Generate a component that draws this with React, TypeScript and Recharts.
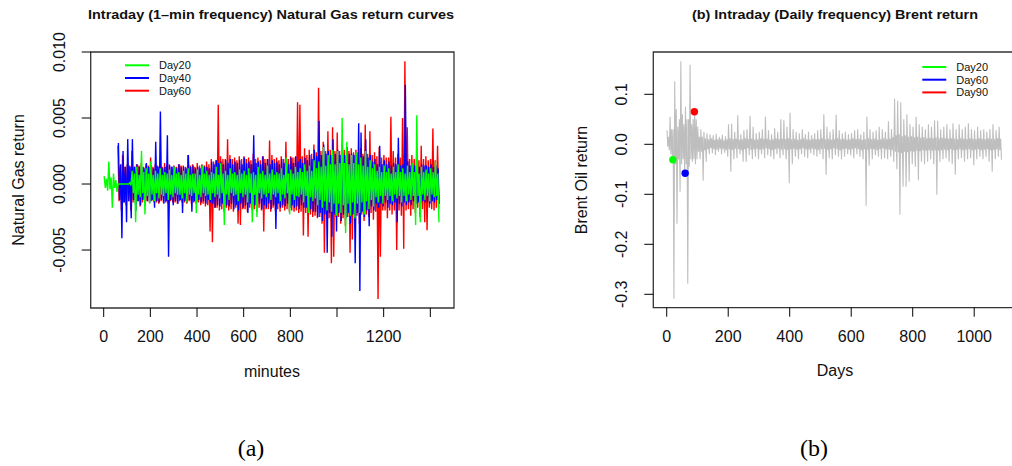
import React from "react";
import { ComposedChart, Line, XAxis, YAxis, ReferenceArea, ReferenceDot } from "recharts";

// ---- (a) natural gas, 1-min returns ----
// read off the picture as high / low per 10-minute bin, in units of 0.001
const GAS_BIN = 10;
const GAS_UNIT = 0.001;

const gasDay20Hi = [
  0.6, 0.4, 1.7, 0.5, 0.8, 0.3, 0, 0, 0, 0,
  0, 0.1, 1.0, 0.8, 1.3, 0.7, 2.5, 0.9, 1.2, 0.8,
  1.7, 0.7, 1.0, 0.8, 1.2, 0.7, 0.9, 0.8, 1.1, 0.7,
  1.3, 0.8, 0.9, 0.7, 1.0, 0.8, 1.2, 0.7, 0.8, 0.8,
  1.1, 0.7, 1.4, 0.8, 1.0, 0.7, 0.9, 0.8, 1.3, 0.7,
  1.6, 0.8, 1.0, 0.7, 1.2, 0.8, 0.9, 0.7, 1.1, 0.8,
  1.0, 0.7, 1.2, 0.8, 0.9, 0.7, 1.3, 0.8, 1.0, 0.7,
  1.4, 0.8, 1.1, 0.7, 0.9, 0.8, 1.2, 0.7, 2.0, 0.8,
  1.1, 0.8, 1.3, 0.9, 1.2, 0.9, 1.5, 1.0, 1.4, 1.0,
  1.8, 1.2, 1.7, 1.3, 2.8, 1.4, 2.2, 1.5, 2.6, 1.5,
  2.5, 1.6, 5.0, 1.6, 3.2, 1.5, 2.2, 1.6, 2.4, 1.5,
  2.0, 1.4, 2.5, 1.3, 1.8, 1.2, 1.5, 1.0, 1.3, 0.9,
  1.4, 0.9, 1.2, 0.8, 1.3, 0.9, 1.5, 0.9, 1.2, 0.8,
  1.4, 0.9, 1.6, 0.9, 5.2, 0.8, 1.3, 0.9, 1.1, 0.8,
  1.2, 0.9, 1.7, 0.8,
];
const gasDay20Lo = [
  -0.3, -0.5, -0.4, -1.8, -0.3, -0.6, 0, 0, 0, 0,
  0, -0.1, -0.7, -2.9, -0.8, -1.0, -0.7, -2.3, -0.9, -1.5,
  -0.8, -1.3, -0.7, -1.1, -0.8, -0.9, -0.7, -1.2, -0.8, -1.0,
  -0.7, -0.8, -0.8, -1.1, -0.7, -1.4, -0.8, -0.9, -0.7, -2.2,
  -0.8, -1.0, -0.7, -0.9, -0.8, -1.2, -0.7, -1.0, -0.8, -1.1,
  -0.7, -3.1, -0.8, -1.2, -0.7, -0.9, -0.8, -1.3, -0.7, -1.0,
  -0.8, -1.4, -0.7, -2.9, -0.8, -2.5, -0.7, -1.1, -0.8, -1.0,
  -0.7, -1.2, -0.8, -1.0, -0.7, -1.3, -0.8, -1.1, -0.7, -2.3,
  -0.8, -1.2, -0.9, -1.0, -0.8, -1.4, -0.9, -2.2, -1.0, -1.3,
  -1.1, -1.6, -1.2, -1.8, -1.3, -2.0, -1.4, -2.1, -1.5, -2.4,
  -1.5, -2.2, -1.6, -3.7, -1.5, -2.4, -1.4, -2.6, -1.5, -2.2,
  -1.4, -2.3, -1.3, -1.9, -1.2, -1.7, -1.0, -1.4, -0.9, -1.5,
  -0.9, -1.2, -0.9, -1.3, -0.8, -1.1, -0.9, -1.4, -0.9, -1.3,
  -0.8, -1.2, -0.9, -3.1, -0.9, -2.9, -0.8, -1.2, -0.9, -1.3,
  -0.8, -1.0, -0.9, -2.9,
];
const gasDay40Hi = [
  null, null, null, null, null, null, 3.1, 1.5, 2.5, 1.3,
  3.4, 1.3, 3.4, 1.3, 1.5, 1.3, 1.3, 1.2, 1.6, 1.3,
  1.4, 1.2, 3.2, 1.3, 5.5, 1.2, 1.3, 3.7, 1.4, 1.3,
  1.3, 1.2, 1.5, 1.3, 1.3, 1.2, 2.2, 1.3, 1.4, 1.2,
  1.3, 1.2, 1.4, 1.3, 1.3, 1.2, 1.7, 1.5, 1.8, 1.6,
  1.7, 1.5, 1.8, 1.6, 1.9, 1.5, 1.7, 1.6, 1.8, 1.5,
  2.0, 1.6, 1.7, 1.5, 3.7, 1.6, 1.7, 1.5, 2.1, 1.6,
  1.9, 1.5, 1.8, 1.6, 1.7, 1.5, 1.9, 1.6, 1.7, 1.5,
  2.0, 1.6, 2.1, 1.7, 1.9, 1.6, 2.0, 1.8, 2.2, 1.9,
  2.6, 2.1, 4.8, 2.2, 3.0, 2.3, 2.5, 2.2, 3.4, 2.3,
  2.6, 2.2, 2.4, 2.2, 2.8, 2.3, 2.3, 2.2, 2.2, 4.6,
  3.9, 2.1, 3.4, 2.0, 2.2, 1.7, 1.9, 1.5, 2.9, 1.5,
  1.8, 1.5, 1.7, 1.4, 1.6, 1.5, 3.5, 1.4, 1.5, 7.5,
  1.7, 1.4, 1.5, 1.4, 1.6, 1.3, 1.5, 1.4, 1.4, 1.3,
  1.5, 1.3, 1.4, 1.2,
];
const gasDay40Lo = [
  null, null, null, null, null, null, -1.2, -4.1, -1.4, -2.9,
  -1.3, -2.6, -1.2, -2.0, -1.3, -1.6, -1.2, -1.5, -1.3, -1.4,
  -1.2, -1.8, -1.3, -1.4, -1.2, -1.5, -1.3, -5.5, -1.2, -1.6,
  -1.3, -1.5, -1.2, -2.2, -1.3, -1.4, -1.2, -2.1, -1.3, -1.4,
  -1.2, -1.4, -1.3, -1.5, -1.2, -1.4, -1.5, -1.8, -1.6, -1.7,
  -1.5, -1.8, -1.6, -1.7, -1.5, -1.9, -1.6, -2.0, -1.5, -1.8,
  -1.6, -2.2, -1.5, -1.9, -1.6, -1.8, -1.5, -1.9, -1.6, -1.8,
  -1.5, -1.9, -1.6, -3.4, -1.5, -1.8, -1.6, -1.7, -1.5, -1.8,
  -1.6, -1.8, -1.7, -1.9, -1.6, -1.8, -1.8, -2.1, -1.9, -2.1,
  -2.1, -2.5, -2.2, -2.8, -2.3, -5.2, -2.2, -4.0, -2.3, -3.6,
  -2.2, -2.8, -2.3, -2.6, -2.2, -3.0, -2.3, -6.0, -2.2, -8.1,
  -2.1, -2.5, -2.0, -3.2, -1.7, -2.0, -1.5, -1.8, -1.5, -1.7,
  -1.4, -1.8, -1.5, -1.6, -1.4, -2.9, -1.5, -1.7, -1.4, -1.6,
  -1.4, -1.6, -1.3, -1.5, -1.4, -1.5, -1.3, -1.4, -1.4, -1.5,
  -1.3, -1.4, -1.2, -1.5,
];
const gasDay60Hi = [
  null, null, null, null, null, null, 2.9, 1.4, 2.2, 1.3,
  1.5, 1.4, 2.5, 1.3, 1.5, 1.4, 1.6, 1.3, 1.5, 1.4,
  2.0, 1.3, 1.5, 1.4, 1.4, 1.3, 1.6, 1.4, 1.5, 1.3,
  1.4, 1.3, 1.5, 1.4, 1.4, 1.3, 2.2, 1.4, 1.5, 1.3,
  1.6, 1.4, 1.5, 1.4, 1.7, 1.5, 1.9, 1.7, 1.8, 6.0,
  2.1, 1.9, 1.9, 3.4, 2.2, 1.9, 2.0, 1.8, 2.1, 1.9,
  2.1, 1.9, 2.0, 1.8, 2.3, 1.9, 2.0, 1.8, 2.1, 1.9,
  1.9, 3.3, 2.2, 1.9, 2.0, 1.8, 2.1, 1.9, 3.2, 1.9,
  2.1, 2.0, 2.0, 6.2, 6.0, 2.1, 2.7, 2.2, 2.6, 2.3,
  3.0, 2.4, 7.3, 2.5, 3.2, 2.5, 4.0, 2.6, 4.3, 2.5,
  3.9, 2.5, 3.0, 2.6, 2.8, 2.5, 2.7, 2.4, 2.6, 2.4,
  2.7, 2.3, 4.5, 2.3, 4.0, 2.2, 2.4, 2.1, 2.8, 2.0,
  2.2, 2.0, 2.0, 5.1, 2.5, 2.0, 2.3, 2.0, 5.0, 9.3,
  4.3, 1.9, 2.2, 1.9, 2.0, 1.8, 2.9, 1.9, 2.1, 1.8,
  1.9, 4.2, 1.8, 2.9,
];
const gasDay60Lo = [
  null, null, null, null, null, null, -1.3, -2.0, -1.4, -1.6,
  -1.3, -2.0, -1.4, -1.5, -1.3, -1.7, -1.4, -1.5, -1.3, -1.4,
  -1.3, -1.4, -1.4, -1.5, -1.3, -1.4, -1.4, -1.5, -1.3, -1.4,
  -1.4, -1.5, -1.3, -1.4, -1.4, -1.5, -1.3, -1.5, -1.4, -1.5,
  -1.4, -1.6, -1.5, -1.7, -1.6, -3.6, -4.4, -1.8, -1.8, -2.0,
  -1.9, -2.1, -1.8, -2.0, -1.9, -2.1, -1.8, -3.0, -3.1, -1.9,
  -1.9, -2.1, -1.8, -2.0, -1.9, -2.1, -1.8, -2.0, -3.6, -1.9,
  -1.9, -2.1, -1.8, -2.0, -1.9, -2.1, -1.8, -2.0, -1.9, -2.1,
  -2.0, -2.1, -2.0, -2.2, -2.1, -3.9, -2.2, -4.0, -2.3, -2.5,
  -2.4, -2.6, -2.5, -3.0, -5.2, -2.5, -2.6, -6.0, -5.5, -2.5,
  -2.5, -3.0, -2.6, -3.2, -2.5, -5.2, -4.2, -2.4, -2.4, -3.0,
  -2.3, -2.8, -2.3, -2.5, -2.2, -2.7, -2.1, -8.7, -5.5, -2.0,
  -2.0, -2.6, -2.0, -2.3, -2.0, -5.0, -2.0, -2.4, -4.9, -2.0,
  -1.9, -2.4, -1.9, -2.2, -1.8, -2.5, -1.9, -2.9, -3.5, -1.8,
  -1.9, -2.0, -1.8, -1.9,
];

const gasXTicks = [0, 200, 400, 600, 800, 1000, 1200, 1400];
const gasXTickLabels = ["0", "200", "400", "600", "800", "", "1200", ""];
const gasYTicks = [-0.005, 0, 0.005, 0.01];
const gasYTickLabels = ["-0.005", "0.000", "0.005", "0.010"];
const gasLegend = ["Day20", "Day40", "Day60"];

// ---- (b) Brent, daily returns ----
// high / low per 5-day bin
const BRENT_BIN = 5;
const brentHi = [
  0.028, 0.015, 0.055, 0.03, 0.03, 0.126, 0.07, 0.035, 0.05, 0.166,
  0.06, 0.04, 0.075, 0.05, 0.05, 0.159, 0.04, 0.05, 0.065, 0.05,
  0.035, 0.015, 0.03, 0.015, 0.025, 0.012,
  0.022, 0.01, 0.02, 0.012, 0.018, 0.009, 0.021, 0.01, 0.015, 0.011,
  0.019, 0.008, 0.016, 0.01, 0.04, 0.012, 0.041, 0.01, 0.025, 0.011,
  0.058, 0.009, 0.02, 0.01, 0.028, 0.012, 0.03, 0.01, 0.057, 0.011,
  0.035, 0.009, 0.022, 0.01, 0.025, 0.012, 0.03, 0.01, 0.055, 0.011,
  0.028, 0.009, 0.02, 0.01, 0.032, 0.012, 0.025, 0.01, 0.05, 0.011,
  0.048, 0.01, 0.035, 0.012, 0.063, 0.01, 0.03, 0.011, 0.025, 0.009,
  0.022, 0.01, 0.03, 0.012, 0.02, 0.01, 0.025, 0.009, 0.018, 0.011,
  0.022, 0.01, 0.028, 0.01, 0.03, 0.012, 0.06, 0.01, 0.035, 0.011,
  0.025, 0.009, 0.03, 0.01, 0.059, 0.012, 0.028, 0.01, 0.022, 0.011,
  0.025, 0.009, 0.02, 0.01, 0.022, 0.012, 0.028, 0.01, 0.03, 0.011,
  0.02, 0.009, 0.025, 0.01, 0.055, 0.012, 0.03, 0.01, 0.025, 0.011,
  0.028, 0.009, 0.035, 0.01, 0.03, 0.012, 0.025, 0.01, 0.046, 0.011,
  0.03, 0.014, 0.091, 0.018, 0.087, 0.02, 0.084, 0.016, 0.05, 0.018,
  0.06, 0.015, 0.04, 0.016, 0.035, 0.014, 0.055, 0.015, 0.04, 0.013,
  0.035, 0.014, 0.03, 0.012, 0.04, 0.013, 0.035, 0.012, 0.048, 0.014,
  0.047, 0.012, 0.03, 0.013, 0.035, 0.012, 0.04, 0.011, 0.03, 0.012,
  0.042, 0.011, 0.03, 0.01, 0.04, 0.012, 0.03, 0.011, 0.035, 0.01,
  0.042, 0.012, 0.03, 0.011, 0.028, 0.01, 0.035, 0.012, 0.028, 0.011,
  0.03, 0.01, 0.025, 0.012, 0.03, 0.011, 0.04, 0.01, 0.028, 0.012,
  0.035, 0.011,
];
const brentLo = [
  -0.005, -0.012, -0.02, -0.031, -0.309, -0.04, -0.159, -0.03, -0.095, -0.04,
  -0.03, -0.058, -0.04, -0.279, -0.045, -0.03, -0.035, -0.03, -0.04, -0.03,
  -0.015, -0.03, -0.015, -0.073, -0.012, -0.035,
  -0.01, -0.02, -0.008, -0.018, -0.01, -0.022, -0.011, -0.015, -0.009, -0.02,
  -0.01, -0.017, -0.012, -0.025, -0.01, -0.055, -0.011, -0.03, -0.009, -0.028,
  -0.01, -0.02, -0.012, -0.035, -0.01, -0.035, -0.008, -0.022, -0.011, -0.03,
  -0.01, -0.025, -0.009, -0.03, -0.011, -0.02, -0.01, -0.028, -0.008, -0.022,
  -0.01, -0.025, -0.012, -0.03, -0.01, -0.02, -0.009, -0.028, -0.011, -0.022,
  -0.01, -0.03, -0.012, -0.078, -0.01, -0.04, -0.009, -0.025, -0.011, -0.03,
  -0.01, -0.02, -0.008, -0.025, -0.01, -0.028, -0.011, -0.018, -0.009, -0.022,
  -0.01, -0.025, -0.012, -0.02, -0.01, -0.03, -0.009, -0.061, -0.011, -0.028,
  -0.01, -0.03, -0.008, -0.022, -0.01, -0.025, -0.012, -0.03, -0.01, -0.025,
  -0.009, -0.02, -0.011, -0.022, -0.01, -0.028, -0.008, -0.02, -0.01, -0.025,
  -0.012, -0.03, -0.01, -0.123, -0.011, -0.043, -0.009, -0.03, -0.01, -0.022,
  -0.012, -0.025, -0.01, -0.03, -0.008, -0.028, -0.01, -0.03, -0.011, -0.025,
  -0.012, -0.035, -0.015, -0.05, -0.016, -0.141, -0.018, -0.085, -0.015, -0.085,
  -0.016, -0.075, -0.014, -0.04, -0.015, -0.045, -0.013, -0.072, -0.014, -0.035,
  -0.012, -0.04, -0.013, -0.035, -0.012, -0.03, -0.013, -0.04, -0.012, -0.101,
  -0.013, -0.035, -0.012, -0.03, -0.011, -0.028, -0.012, -0.035, -0.01, -0.04,
  -0.012, -0.061, -0.011, -0.03, -0.01, -0.028, -0.012, -0.035, -0.011, -0.03,
  -0.01, -0.028, -0.012, -0.042, -0.011, -0.03, -0.01, -0.025, -0.012, -0.03,
  -0.011, -0.025, -0.01, -0.035, -0.012, -0.055, -0.011, -0.03, -0.01, -0.025,
  -0.012, -0.031,
];

const brentMarkDays = [20, 60, 90];
const brentMarkValues = [-0.031, -0.058, 0.065];
const brentLegend = ["Day20", "Day60", "Day90"];
const brentXTicks = [0, 200, 400, 600, 800, 1000];
const brentYTicks = [-0.3, -0.2, -0.1, 0, 0.1];
const brentYTickLabels = ["-0.3", "-0.2", "-0.1", "0.0", "0.1"];

const lineColors = ["#00ff00", "#0000ff", "#ff0000"];
const FONT = '"Liberation Sans", Arial, Helvetica, sans-serif';
const SERIF = '"Liberation Serif", "Times New Roman", serif';

function envelope(hi: (number | null)[], lo: (number | null)[], bin: number, offset: number, unit: number) {
  const pts: { x: number; v: number }[] = [];
  hi.forEach((h, k) => {
    const l = lo[k];
    if (h == null || l == null) return;
    pts.push({ x: k * bin + offset, v: h * unit });
    pts.push({ x: k * bin + offset + bin / 2, v: l * unit });
  });
  return pts;
}

const gasRed = envelope(gasDay60Hi, gasDay60Lo, GAS_BIN, 1, GAS_UNIT);
const gasBlue = envelope(gasDay40Hi, gasDay40Lo, GAS_BIN, 3, GAS_UNIT);
const gasGreen = envelope(gasDay20Hi, gasDay20Lo, GAS_BIN, 2, GAS_UNIT);
const brent = envelope(brentHi, brentLo, BRENT_BIN, 1, 1);

const GAS_X = [-55.7, 1501.5];
const GAS_Y = [-0.00939, 0.01];
const BRENT_X = [-43.6, 1133.6];
const BRENT_Y = [-0.3268, 0.1846];

function makeXTick(ticks: number[], labels: string[]) {
  return (props: any) => {
    const { x, y, payload } = props;
    const i = ticks.indexOf(payload.value);
    return (
      <text x={x} y={y + 25} textAnchor="middle" fontSize={16} fill="#111" fontFamily={FONT}>
        {labels[i]}
      </text>
    );
  };
}

function makeYTick(ticks: number[], labels: string[]) {
  return (props: any) => {
    const { x, y, payload } = props;
    const i = ticks.findIndex((t) => Math.abs(t - payload.value) < 1e-9);
    const bx = x - 17;
    return (
      <text
        x={bx}
        y={y}
        transform={`rotate(-90 ${bx} ${y})`}
        textAnchor="middle"
        fontSize={16}
        fill="#111"
        fontFamily={FONT}
      >
        {labels[i]}
      </text>
    );
  };
}

function GasPanel() {
  return (
    <ComposedChart width={470} height={466} margin={{ top: 52, right: 16, bottom: 118, left: 60.7 }}>
      <XAxis
        type="number"
        dataKey="x"
        domain={GAS_X}
        allowDataOverflow
        ticks={gasXTicks}
        interval={0}
        tick={makeXTick(gasXTicks, gasXTickLabels)}
        tickSize={9}
        tickMargin={0}
        tickLine={{ stroke: "#000" }}
        axisLine={false}
        height={40}
      />
      <YAxis
        type="number"
        dataKey="v"
        domain={GAS_Y}
        allowDataOverflow
        ticks={gasYTicks}
        interval={0}
        tick={makeYTick(gasYTicks, gasYTickLabels)}
        tickSize={9}
        tickMargin={0}
        tickLine={{ stroke: "#000" }}
        axisLine={false}
        width={30}
      />
      <Line data={gasRed} dataKey="v" type="linear" stroke={lineColors[2]} strokeWidth={1.4} dot={false} isAnimationActive={false} />
      <Line data={gasBlue} dataKey="v" type="linear" stroke={lineColors[1]} strokeWidth={1.4} dot={false} isAnimationActive={false} />
      <Line data={gasGreen} dataKey="v" type="linear" stroke={lineColors[0]} strokeWidth={1.4} dot={false} isAnimationActive={false} />
      <ReferenceArea
        x1={GAS_X[0]}
        x2={GAS_X[1]}
        y1={GAS_Y[0]}
        y2={GAS_Y[1]}
        fill="none"
        stroke="#333"
        strokeWidth={1.3}
        ifOverflow="visible"
      />
    </ComposedChart>
  );
}

function BrentPanel() {
  return (
    <ComposedChart width={460} height={466} margin={{ top: 52, right: 4.7, bottom: 118.3, left: 63.3 }}>
      <XAxis
        type="number"
        dataKey="x"
        domain={BRENT_X}
        allowDataOverflow
        ticks={brentXTicks}
        interval={0}
        tick={makeXTick(brentXTicks, brentXTicks.map(String))}
        tickSize={9}
        tickMargin={0}
        tickLine={{ stroke: "#000" }}
        axisLine={false}
        height={40}
      />
      <YAxis
        type="number"
        dataKey="v"
        domain={BRENT_Y}
        allowDataOverflow
        ticks={brentYTicks}
        interval={0}
        tick={makeYTick(brentYTicks, brentYTickLabels)}
        tickSize={9}
        tickMargin={0}
        tickLine={{ stroke: "#000" }}
        axisLine={false}
        width={30}
      />
      <Line data={brent} dataKey="v" type="linear" stroke="#bebebe" strokeWidth={1.1} dot={false} isAnimationActive={false} />
      {brentMarkDays.map((d, i) => (
        <ReferenceDot key={d} x={d} y={brentMarkValues[i]} r={3.7} fill={lineColors[i]} stroke="none" />
      ))}
      <ReferenceArea
        x1={BRENT_X[0]}
        x2={BRENT_X[1]}
        y1={BRENT_Y[0]}
        y2={BRENT_Y[1]}
        fill="none"
        stroke="#333"
        strokeWidth={1.3}
        ifOverflow="visible"
      />
    </ComposedChart>
  );
}

function Legend({ labels, x, y }: { labels: string[]; x: number; y: number }) {
  return (
    <g>
      {labels.map((l, i) => (
        <g key={l}>
          <line x1={x} x2={x + 24} y1={y + i * 12.7} y2={y + i * 12.7} stroke={lineColors[i]} strokeWidth={2} />
          <text x={x + 34} y={y + i * 12.7 + 4} fontSize={11} fill="#111">
            {l}
          </text>
        </g>
      ))}
    </g>
  );
}

export default function App() {
  return (
    <div
      style={{
        position: "absolute",
        left: 0,
        top: 0,
        width: 1012,
        height: 466,
        overflow: "hidden",
        background: "#fff",
        fontFamily: FONT,
      }}
    >
      <div style={{ position: "absolute", left: 0, top: 0 }}>
        <GasPanel />
      </div>
      <div style={{ position: "absolute", left: 560, top: 0 }}>
        <BrentPanel />
      </div>
      <svg width={1012} height={466} style={{ position: "absolute", left: 0, top: 0, pointerEvents: "none" }} fontFamily={FONT}>
        <text x={271} y={18.5} textAnchor="middle" fontSize={12.5} fontWeight="bold" fill="#111" textLength={366} lengthAdjust="spacingAndGlyphs">
          Intraday (1–min frequency) Natural Gas return curves
        </text>
        <text x={835} y={19} textAnchor="middle" fontSize={12.5} fontWeight="bold" fill="#111" textLength={286} lengthAdjust="spacingAndGlyphs">
          (b) Intraday (Daily frequency) Brent return
        </text>
        <text x={272} y={377} textAnchor="middle" fontSize={16} fill="#111">
          minutes
        </text>
        <text x={835} y={376} textAnchor="middle" fontSize={16} fill="#111">
          Days
        </text>
        <text x={24} y={180} transform="rotate(-90 24 180)" textAnchor="middle" fontSize={16} fill="#111">
          Natural Gas return
        </text>
        <text x={587} y={180} transform="rotate(-90 587 180)" textAnchor="middle" fontSize={16} fill="#111">
          Brent Oil return
        </text>
        <text x={251} y={456} textAnchor="middle" fontSize={24} fill="#000" fontFamily={SERIF}>
          (a)
        </text>
        <text x={814} y={456} textAnchor="middle" fontSize={24} fill="#000" fontFamily={SERIF}>
          (b)
        </text>
        <Legend labels={gasLegend} x={125} y={65.3} />
        <Legend labels={brentLegend} x={922.3} y={67} />
      </svg>
    </div>
  );
}
